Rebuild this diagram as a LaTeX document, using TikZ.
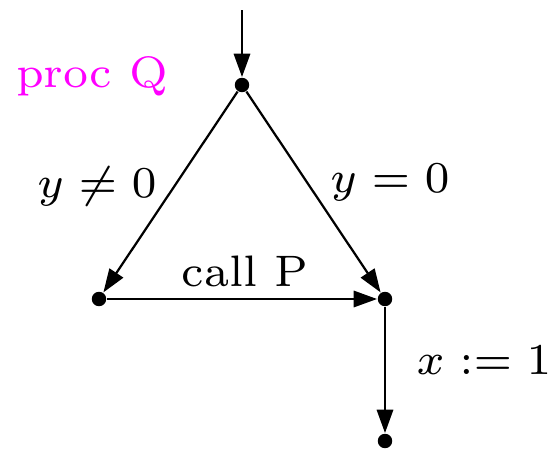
\documentclass[tikz,border=0pt]{standalone}
\usetikzlibrary{arrows.meta}
\definecolor{procmag}{rgb}{1,0,1}
\newcommand{\mylbl}[1]{\scalebox{1.7}{\fontsize{7}{8}\selectfont #1}}
\begin{document}
\begin{tikzpicture}[x=0.27pt,y=-0.27pt,
  dot/.style={circle,fill=black,inner sep=0pt,minimum size=3.9pt},
  edge/.style={-{Triangle[length=6.3pt,width=4.4pt]},line width=0.6pt},
  lbl/.style={inner sep=0pt}]
\useasboundingbox (0,0) rectangle (558,449);
\node[dot] (t) at (242,85) {};
\node[dot] (l) at (99,299) {};
\node[dot] (r) at (385,299) {};
\node[dot] (b) at (385,441) {};
\coordinate (s) at (242,10);
\draw[edge] (s) -- (t);
\draw[edge] (t) -- (l);
\draw[edge] (t) -- (r);
\draw[edge] (l) -- (r);
\draw[edge] (r) -- (b);
\node[lbl,text=procmag] (pq) at (92,76) {\mylbl{proc Q}};
\node[lbl] (l1) at (97,186) {\mylbl{$y\neq 0$}};
\node[lbl] (l2) at (390,183) {\mylbl{$y=0$}};
\node[lbl] (l3) at (245,271) {\mylbl{call P}};
\node[lbl] (l4) at (484,360) {\mylbl{$x:=1$}};
\end{tikzpicture}
\end{document}
